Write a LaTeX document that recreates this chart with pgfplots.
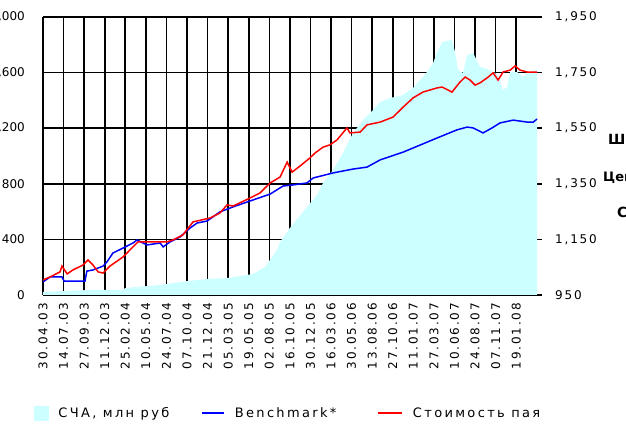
\documentclass[border=0pt]{standalone}
\usepackage{fontspec}
\setmainfont{DejaVu Sans}
\newfontfamily\lsfont[LetterSpace=15]{DejaVu Sans}
\newfontfamily\lgfont[LetterSpace=18]{DejaVu Sans}
\usepackage{pgfplots}
\pgfplotsset{compat=1.18}
\definecolor{cyanfill}{RGB}{204,255,255}
\definecolor{bline}{RGB}{0,0,255}
\definecolor{rline}{RGB}{255,0,0}

\pgfplotstableread{
day nav
0 22
171 36
292 36
299 50
427 72
525 100
598 115
671 122
766 151
809 201
853 324
864 381
900 482
962 633
999 719
1021 806
1057 899
1094 1022
1130 1165
1167 1259
1203 1331
1229 1388
1265 1417
1312 1439
1349 1489
1400 1604
1422 1669
1436 1741
1455 1820
1491 1835
1502 1748
1513 1619
1531 1597
1546 1727
1568 1741
1593 1640
1611 1633
1641 1604
1659 1583
1677 1475
1692 1496
1703 1604
1728 1604
1750 1568
1768 1604
1801 1619
}\navtable

\pgfplotstableread{
day val
0 1004
26 1015
62 1033
69 1054
88 1026
109 1040
146 1058
164 1076
182 1058
201 1033
219 1029
244 1054
292 1087
328 1123
346 1141
452 1141
474 1148
510 1166
547 1213
609 1227
645 1245
671 1274
693 1270
755 1299
791 1317
828 1353
864 1374
890 1428
908 1392
937 1414
973 1443
992 1461
1021 1482
1046 1490
1072 1508
1108 1551
1119 1533
1156 1536
1181 1562
1229 1572
1276 1590
1313 1626
1349 1659
1385 1680
1437 1695
1455 1698
1491 1680
1520 1716
1539 1734
1557 1723
1575 1705
1593 1713
1619 1731
1641 1749
1659 1723
1677 1752
1703 1759
1721 1774
1739 1759
1765 1752
1801 1752
}\unittable

\pgfplotstableread{
day val
0 997
26 1015
69 1015
77 1000
153 1000
160 1036
182 1040
219 1054
233 1069
255 1101
292 1119
328 1137
343 1148
379 1130
427 1137
438 1123
463 1141
500 1159
536 1191
562 1209
598 1216
645 1249
693 1267
766 1292
828 1313
875 1342
912 1346
962 1353
985 1371
1057 1389
1130 1403
1181 1410
1229 1436
1313 1464
1437 1515
1509 1544
1546 1554
1568 1551
1604 1533
1637 1551
1666 1569
1714 1579
1765 1572
1787 1572
1801 1583
}\benchtable

\begin{document}
\begin{tikzpicture}
\useasboundingbox (0,0) rectangle (626pt,425pt);
\begin{axis}[at={(43pt,130pt)}, anchor=south west, scale only axis,
  width=499pt, height=278pt,
  xmin=0, xmax=1819, ymin=0, ymax=2000,
  xtick={0,75,...,1725},
  xticklabels={30.04.03,14.07.03,27.09.03,11.12.03,25.02.04,10.05.04,24.07.04,07.10.04,21.12.04,05.03.05,19.05.05,02.08.05,16.10.05,30.12.05,16.03.06,30.05.06,13.08.06,27.10.06,11.01.07,27.03.07,10.06.07,24.08.07,07.11.07,19.01.08},
  ytick={0,400,800,1200,1600,2000},
  yticklabels={0,400,800,{1,200},{1,600},{2,000}},
  grid=major, major grid style={black, line width=1.6pt},
  axis line style={draw=none}, major tick length=0pt,
  xticklabel style={rotate=90, anchor=east, inner sep=0pt, font=\lsfont\fontsize{12}{14}\selectfont},
  xticklabel shift=8pt,
  yticklabel style={anchor=east, inner sep=0pt, font=\fontsize{12}{14}\selectfont},
  yticklabel shift=18pt,
]
\addplot[fill=cyanfill, draw=none] table[x=day, y=nav] {\navtable} \closedcycle;
\end{axis}
\begin{axis}[at={(43pt,130pt)}, anchor=south west, scale only axis,
  width=499pt, height=278pt,
  xmin=0, xmax=1819, ymin=950, ymax=1950,
  hide x axis, axis y line*=right,
  axis line style={draw=none}, major tick length=0pt,
  ytick={950,1150,1350,1550,1750,1950},
  yticklabels={950,{1,150},{1,350},{1,550},{1,750},{1,950}},
  yticklabel style={anchor=west, inner sep=0pt, font=\lsfont\fontsize{12}{14}\selectfont},
  yticklabel shift=13pt,
  legend columns=3,
  legend style={at={(axis description cs:-0.018,-0.4245)}, anchor=west, draw=none, fill=none,
    inner sep=0pt, outer sep=0pt,
    font=\lgfont\fontsize{13}{15}\selectfont,
    nodes={inner sep=0pt},
    /tikz/every odd column/.append style={column sep=10pt},
    /tikz/every even column/.append style={column sep=32pt}},
]
\addlegendimage{legend image code/.code={\fill[cyanfill] (0pt,-7pt) rectangle (14pt,7pt);}}
\addlegendentry{СЧА, млн руб}
\addlegendimage{legend image code/.code={\draw[bline, line width=1.5pt] (0pt,0pt) -- (22pt,0pt);}}
\addlegendentry{Benchmark*\rule{9pt}{0pt}}
\addlegendimage{legend image code/.code={\draw[rline, line width=1.5pt] (0pt,0pt) -- (24pt,0pt);}}
\addlegendentry{Стоимость пая}
\addplot[bline, line width=1.5pt, forget plot] table[x=day, y=val] {\benchtable};
\addplot[rline, line width=1.5pt, forget plot] table[x=day, y=val] {\unittable};
\end{axis}
\node[anchor=west, font=\bfseries\fontsize{14}{16}\selectfont, inner sep=0pt] at (608pt,285pt) {Шкала};
\node[anchor=west, font=\bfseries\fontsize{13}{15}\selectfont, inner sep=0pt] at (603pt,247pt) {Цена пая};
\node[anchor=west, font=\bfseries\fontsize{14}{16}\selectfont, inner sep=0pt] at (617pt,213pt) {СЧА};
\end{tikzpicture}
\end{document}
